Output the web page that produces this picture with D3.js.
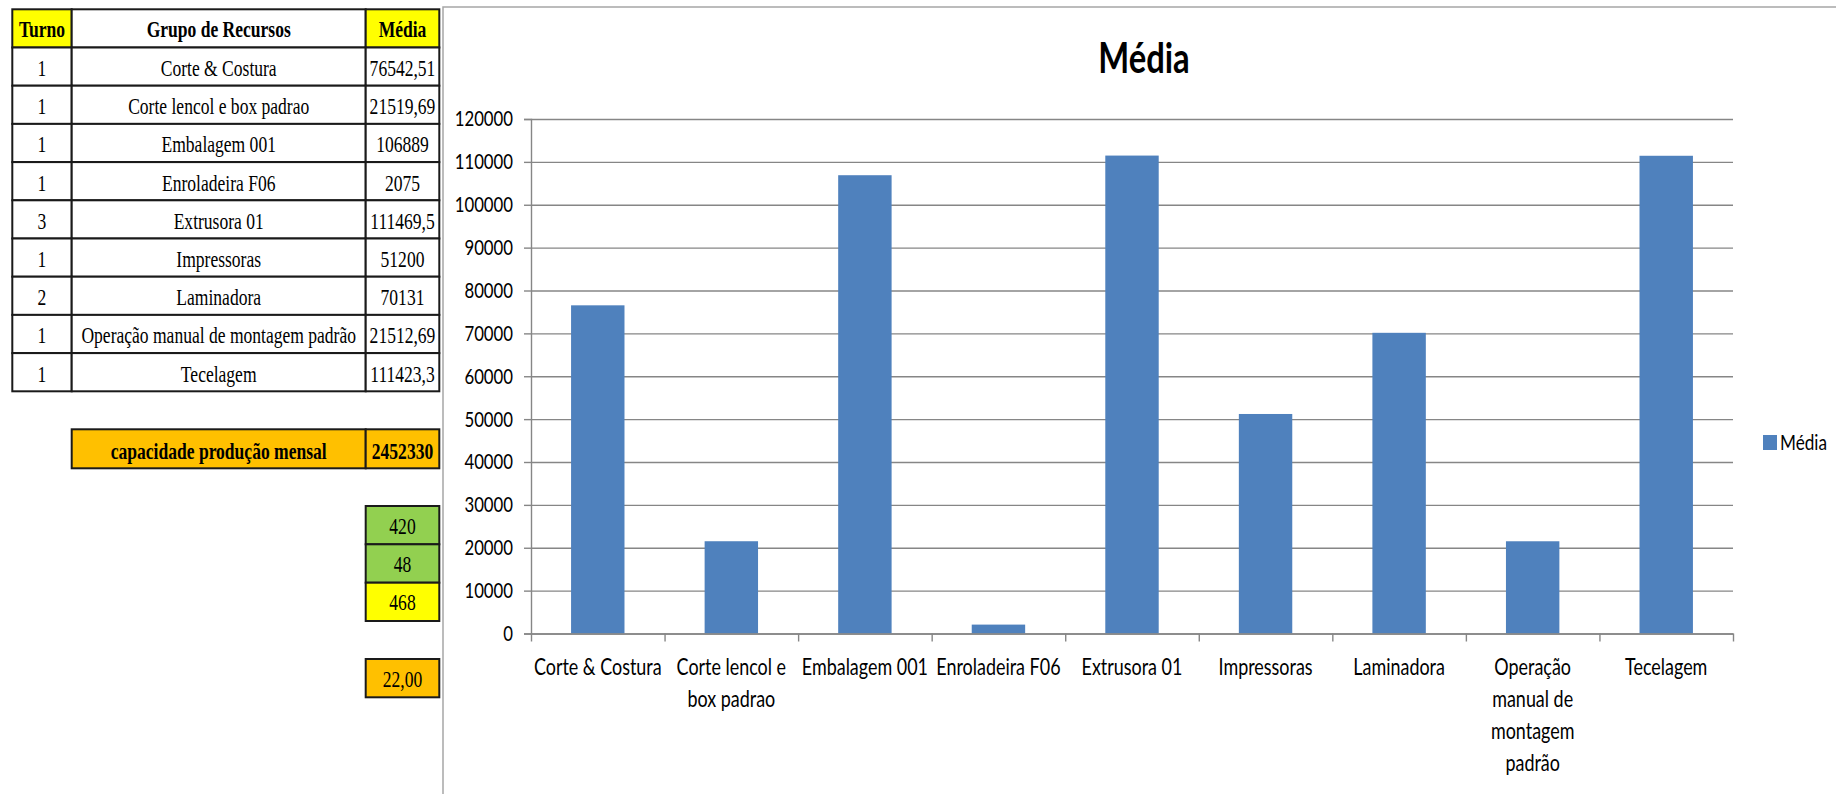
<!DOCTYPE html>
<html><head><meta charset="utf-8">
<script src="https://cdn.jsdelivr.net/npm/d3@7"></script>
<style>html,body{margin:0;padding:0;background:#fff;} svg{display:block;}</style>
</head><body>
<svg id="c" width="1836" height="794"></svg>
<script>
// ---------- data ----------
const tableHeaders = ["Turno", "Grupo de Recursos", "Média"];
const turnos = [1, 1, 1, 1, 3, 1, 2, 1, 1];
const grupos = ["Corte & Costura", "Corte lencol e box padrao", "Embalagem 001", "Enroladeira F06",
  "Extrusora 01", "Impressoras", "Laminadora", "Operação manual de montagem padrão", "Tecelagem"];
const mediaLabels = ["76542,51", "21519,69", "106889", "2075", "111469,5", "51200", "70131", "21512,69", "111423,3"];
const media = [76542.51, 21519.69, 106889, 2075, 111469.5, 51200, 70131, 21512.69, 111423.3];
const capacidadeLabel = "capacidade produção mensal";
const capacidadeValue = "2452330";
const horasValues = ["420", "48", "468"];
const diasValue = "22,00";
const yTicks = [0, 10000, 20000, 30000, 40000, 50000, 60000, 70000, 80000, 90000, 100000, 110000, 120000];
const seriesName = "Média";
const chartTitle = "Média";

// ---------- styles ----------
const SANS = "Lato, 'Open Sans', sans-serif";
const SERIF = "'Liberation Serif', 'DejaVu Serif', serif";
const SXS = 0.78;   // horizontal squeeze of the sans text
const SXT = 0.78;   // horizontal squeeze of the serif text
const BAR = "#4F81BD", GRID = "#868686", FRAME = "#a6a6a6";

const svg = d3.select("#c");

function txt(parent, x, y, s, o) {
  o = o || {};
  return parent.append("text")
    .attr("transform", `translate(${x},${y}) scale(${o.sx || SXT},1)`)
    .attr("text-anchor", o.anchor || "middle")
    .attr("font-family", o.family || SERIF)
    .attr("font-size", o.size || 22.5)
    .attr("font-weight", o.weight || "normal")
    .attr("fill", "#000")
    .text(s);
}

// ---------- spreadsheet table ----------
const colX = [12.3, 71.7, 365.7, 439.3];
const rowTop = 9.3, rowH = 38.2;
const tbl = svg.append("g");
function cell(x0, y0, x1, y1, fill) {
  tbl.append("rect").attr("x", x0).attr("y", y0).attr("width", x1 - x0).attr("height", y1 - y0)
    .attr("fill", fill).attr("stroke", "#1a1a1a").attr("stroke-width", 2);
}
const headFill = ["#FFFF00", "#FFFFFF", "#FFFF00"];
tableHeaders.forEach((h, i) => {
  cell(colX[i], rowTop, colX[i + 1], rowTop + rowH, headFill[i]);
});
grupos.forEach((g, r) => {
  const y0 = rowTop + rowH * (r + 1);
  for (let i = 0; i < 3; i++) cell(colX[i], y0, colX[i + 1], y0 + rowH, "#FFFFFF");
});
tableHeaders.forEach((h, i) => {
  txt(tbl, (colX[i] + colX[i + 1]) / 2, rowTop + 27.6, h, {weight: "bold"});
});
grupos.forEach((g, r) => {
  const yb = rowTop + rowH * (r + 1) + 28.5;
  txt(tbl, (colX[0] + colX[1]) / 2, yb, String(turnos[r]));
  txt(tbl, (colX[1] + colX[2]) / 2, yb, g);
  txt(tbl, (colX[2] + colX[3]) / 2, yb, mediaLabels[r]);
});
// capacidade
cell(colX[1], 429.3, colX[2], 468.3, "#FFC000");
cell(colX[2], 429.3, colX[3], 468.3, "#FFC000");
txt(tbl, (colX[1] + colX[2]) / 2, 458.5, capacidadeLabel, {weight: "bold"});
txt(tbl, (colX[2] + colX[3]) / 2, 458.5, capacidadeValue, {weight: "bold"});
// horas
const hTops = [506, 544.3, 582.7, 621];
const hFill = ["#92D050", "#92D050", "#FFFF00"];
horasValues.forEach((v, i) => {
  cell(colX[2], hTops[i], colX[3], hTops[i + 1], hFill[i]);
  txt(tbl, (colX[2] + colX[3]) / 2, hTops[i] + 27.5, v);
});
cell(colX[2], 659, colX[3], 697.3, "#FFC000");
txt(tbl, (colX[2] + colX[3]) / 2, 659 + 27.5, diasValue);

// ---------- chart frame ----------
svg.append("path").attr("d", "M443,794 L443,7 L1836,7").attr("fill", "none")
  .attr("stroke", FRAME).attr("stroke-width", 1.5);

// ---------- chart ----------
const plot = {l: 531, r: 1733, t: 119, b: 633.5};
const x = d3.scaleBand().domain(grupos).range([plot.l, plot.r]).paddingInner(0.6).paddingOuter(0.3);
const y = d3.scaleLinear().domain([0, 120000]).range([plot.b, plot.t]);

// gridlines
const grid = svg.append("g").attr("transform", `translate(${plot.l},0)`)
  .call(d3.axisLeft(y).tickValues(yTicks).tickSize(-(plot.r - plot.l)).tickFormat(""));
grid.select(".domain").remove();
grid.selectAll("line").attr("stroke", GRID).attr("stroke-width", 1.4);

// bars
svg.append("g").selectAll("rect").data(grupos).join("rect")
  .attr("x", d => x(d)).attr("width", x.bandwidth())
  .attr("y", (d, i) => y(media[i])).attr("height", (d, i) => y(0) - y(media[i]))
  .attr("fill", BAR);

// y axis
const ya = svg.append("g").attr("transform", `translate(${plot.l},0)`)
  .call(d3.axisLeft(y).tickValues(yTicks).tickSize(7).tickPadding(11).tickFormat(d3.format("d")));
ya.select(".domain").attr("stroke", GRID).attr("stroke-width", 1.4);
ya.selectAll("line").attr("stroke", GRID).attr("stroke-width", 1.4);
ya.selectAll("text")
  .attr("x", -18 / SXS).attr("transform", `scale(${SXS},1)`)
  .attr("font-family", SANS).attr("font-size", 21.5).attr("fill", "#000");

// x axis: boundary ticks
const xb = d3.scaleLinear().domain([0, grupos.length]).range([plot.l, plot.r]);
const xa = svg.append("g").attr("transform", `translate(0,${plot.b})`)
  .call(d3.axisBottom(xb).tickValues(d3.range(grupos.length + 1)).tickSize(8).tickSizeOuter(0).tickFormat(""));
xa.select(".domain").attr("stroke", GRID).attr("stroke-width", 1.4);
xa.selectAll("line").attr("stroke", GRID).attr("stroke-width", 1.4);

// x axis: labels
const xl = svg.append("g").attr("transform", `translate(0,${plot.b})`)
  .call(d3.axisBottom(x).tickSize(0).tickPadding(0));
xl.select(".domain").remove();
const MAXW = 132;
xl.selectAll(".tick text").each(function (d) {
  const t = d3.select(this);
  t.text(null).attr("y", null).attr("dy", null)
    .attr("transform", `scale(${SXS},1)`)
    .attr("font-family", SANS).attr("font-size", 23).attr("fill", "#000");
  const words = d.split(" ");
  let lines = [], cur = [];
  const probe = t.append("tspan").attr("x", 0);
  words.forEach(w => {
    const trial = cur.concat([w]).join(" ");
    probe.text(trial);
    if (cur.length && probe.node().getComputedTextLength() * SXS > MAXW) {
      lines.push(cur.join(" ")); cur = [w];
    } else cur.push(w);
  });
  lines.push(cur.join(" "));
  probe.remove();
  lines.forEach((ln, i) => {
    t.append("tspan").attr("x", 0).attr("y", 42 + i * 32).text(ln);
  });
});

// title
txt(svg, 1144, 73, chartTitle, {family: SANS, size: 42, weight: "bold", sx: SXS});

// legend
const lg = svg.append("g");
lg.append("rect").attr("x", 1763).attr("y", 435).attr("width", 14).attr("height", 15).attr("fill", BAR);
txt(lg, 1780, 450, seriesName, {family: SANS, size: 22, anchor: "start", sx: SXS});
</script>
</body></html>
